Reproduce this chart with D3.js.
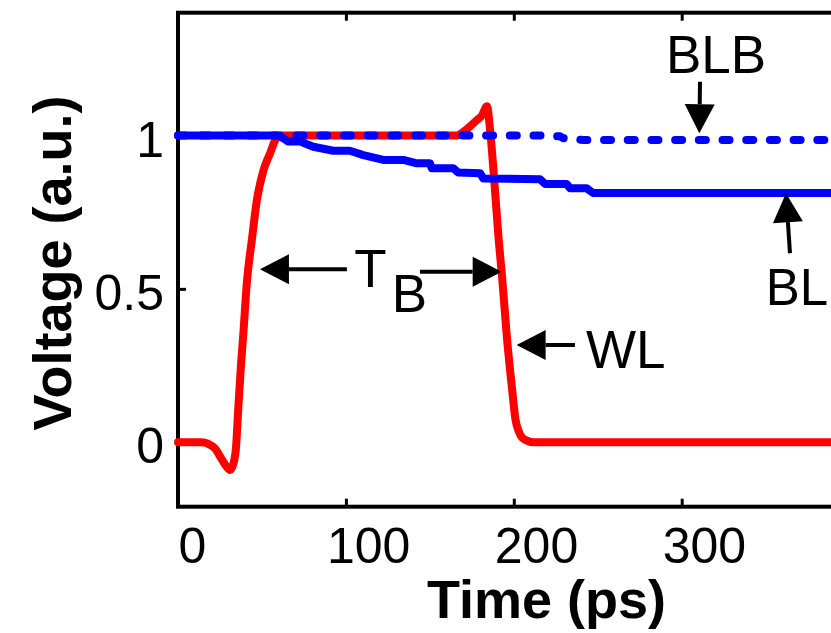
<!DOCTYPE html>
<html>
<head>
<meta charset="utf-8">
<script src="https://cdn.jsdelivr.net/npm/d3@7"></script>
<style>
  html, body { margin: 0; padding: 0; background: #fff; overflow: hidden; }
  svg { display: block; }
  text { font-family: "Liberation Sans", Arial, Helvetica, sans-serif; fill: #000; }
</style>
</head>
<body>
<svg id="chart" width="831" height="633"></svg>
<script>
// Word-line (WL) pulse, time in ps and voltage in a.u.
const wlTime = [0, 8, 14, 18, 22, 26, 29, 31, 33, 34.5, 36, 37.5, 39, 41, 44, 47, 51, 55, 58, 61,
                100, 140, 166, 170, 174, 178, 181, 184, 186, 188, 191, 193, 196, 199, 201, 203,
                205, 208, 212, 250, 300, 400];
const wlVolt = [0, 0, 0, -0.005, -0.02, -0.055, -0.08, -0.09, -0.07, -0.02, 0.12, 0.25, 0.36, 0.52,
                0.66, 0.79, 0.888, 0.944, 0.986, 1.0,
                1.0, 1.0, 1.0, 1.012, 1.03, 1.05, 1.065, 1.095, 1.01, 0.88, 0.66, 0.54, 0.335,
                0.172, 0.074, 0.035, 0.015, 0.005, 0, 0, 0, 0];

// Bit line (BL), discharging in small steps
const blTime = [0, 58.8, 62.7, 65.7, 72.7, 80.6, 92.5, 102.4, 110.4, 122.3, 134.2, 142.2, 150.1,
                151.1, 164.0, 166.9, 179.9, 181.8, 215.6, 218.6, 231.5, 233.5, 243.4, 247.3, 400];
const blVolt = [1.0, 1.0, 0.991, 0.980, 0.980, 0.963, 0.950, 0.950, 0.936, 0.920, 0.920, 0.909,
                0.909, 0.893, 0.893, 0.879, 0.877, 0.860, 0.857, 0.842, 0.842, 0.828, 0.828,
                0.812, 0.812];

// Complementary bit line (BLB)
const blbTime = [0, 215.6, 227.5, 229.5, 241.4, 400];
const blbVolt = [1.0, 1.0, 0.997, 0.991, 0.985, 0.985];

// Axis ticks
const xTicks = [0, 100, 200, 300, 400];
const xTickLabels = ["0", "100", "200", "300", ""];
const yTicks = [0, 0.5, 1];
const yTickLabels = ["0", "0.5", "1"];

const svg = d3.select("#chart");
svg.append("rect").attr("width", 831).attr("height", 633).attr("fill", "#fff");

const x = d3.scaleLinear().domain([0, 400]).range([178, 849.6]);
const y = d3.scaleLinear().domain([-0.21, 1.4]).range([506.7, 12.7]);

const tickFont = 50;
const lineW = 8;

// Frame of the axes
svg.append("rect")
  .attr("x", x(0)).attr("y", y(1.4))
  .attr("width", x(400) - x(0)).attr("height", y(-0.21) - y(1.4))
  .attr("fill", "none").attr("stroke", "#000").attr("stroke-width", 4);

// Bottom axis with inward ticks
const gx = svg.append("g").attr("transform", `translate(0,${y(-0.21)})`)
  .call(d3.axisBottom(x).tickValues(xTicks).tickFormat((d, i) => xTickLabels[i])
        .tickSizeInner(-8).tickSizeOuter(0));
gx.select(".domain").remove();
gx.selectAll(".tick line").attr("stroke", "#000").attr("stroke-width", 3);
gx.selectAll(".tick text")
  .attr("font-size", tickFont)
  .attr("text-anchor", "start")
  .attr("dy", null)
  .attr("y", 56.3)
  .attr("x", d => d === 0 ? 0 : -19.5);

// Top axis: ticks only
const gt = svg.append("g").attr("transform", `translate(0,${y(1.4)})`)
  .call(d3.axisTop(x).tickValues(xTicks).tickFormat("").tickSizeInner(-8).tickSizeOuter(0));
gt.select(".domain").remove();
gt.selectAll(".tick line").attr("stroke", "#000").attr("stroke-width", 3);

// Left axis with inward ticks
const gy = svg.append("g").attr("transform", `translate(${x(0)},0)`)
  .call(d3.axisLeft(y).tickValues(yTicks).tickFormat((d, i) => yTickLabels[i])
        .tickSizeInner(-8).tickSizeOuter(0));
gy.select(".domain").remove();
gy.selectAll(".tick line").attr("stroke", "#000").attr("stroke-width", 3);
gy.selectAll(".tick text")
  .attr("font-size", tickFont)
  .attr("text-anchor", "end")
  .attr("dy", null)
  .attr("y", 20.7)
  .attr("x", -14);

// Axis titles
svg.append("text")
  .attr("x", 546.5).attr("y", 618)
  .attr("text-anchor", "middle")
  .attr("font-size", 54).attr("font-weight", "bold")
  .text("Time (ps)");

svg.append("text")
  .attr("transform", "translate(71,263) rotate(-90)")
  .attr("text-anchor", "middle")
  .attr("font-size", 54).attr("font-weight", "bold")
  .text("Voltage (a.u.)");

// Waveforms
const line = d3.line().x(d => x(d[0])).y(d => y(d[1]));
const smooth = d3.line().x(d => x(d[0])).y(d => y(d[1])).curve(d3.curveMonotoneX);

svg.append("path")
  .datum(d3.zip(wlTime, wlVolt))
  .attr("d", smooth)
  .attr("fill", "none").attr("stroke", "#ff0000").attr("stroke-width", lineW)
  .attr("stroke-linecap", "round").attr("stroke-linejoin", "round");

svg.append("path")
  .datum(d3.zip(blbTime, blbVolt))
  .attr("d", line)
  .attr("fill", "none").attr("stroke", "#0000ff").attr("stroke-width", lineW)
  .attr("stroke-dasharray", "7,16.7")
  .attr("stroke-linecap", "round").attr("stroke-linejoin", "round");

svg.append("path")
  .datum(d3.zip(blTime, blVolt))
  .attr("d", line)
  .attr("fill", "none").attr("stroke", "#0000ff").attr("stroke-width", lineW)
  .attr("stroke-linecap", "round").attr("stroke-linejoin", "round");

// Annotation arrows, given in data units: tail -> tip
function arrow(t0, v0, t1, v1) {
  const x0 = x(t0), y0 = y(v0), x1 = x(t1), y1 = y(v1);
  const dx = x1 - x0, dy = y1 - y0, len = Math.hypot(dx, dy);
  const ux = dx / len, uy = dy / len;
  const headLen = 29, headHalf = 15;
  const bx = x1 - ux * headLen, by = y1 - uy * headLen;
  svg.append("line")
    .attr("x1", x0).attr("y1", y0).attr("x2", bx).attr("y2", by)
    .attr("stroke", "#000").attr("stroke-width", 4);
  svg.append("path")
    .attr("d", `M${x1},${y1}L${bx - uy * headHalf},${by + ux * headHalf}L${bx + uy * headHalf},${by - ux * headHalf}Z`)
    .attr("fill", "#000");
}

function label(t, v, str, size) {
  return svg.append("text").attr("x", x(t)).attr("y", y(v))
    .attr("font-size", size || 53).text(str);
}

// T_B: pulse width markers
arrow(100.6, 0.564, 48.8, 0.564);
arrow(144.1, 0.556, 192.8, 0.556);
const tb = label(105.0, 0.506, "T");
tb.append("tspan").attr("dx", 5).attr("dy", 25).text("B");

// WL
arrow(236.4, 0.317, 201.7, 0.317);
label(243.0, 0.2415, "WL");

// BLB
arrow(310.9, 1.175, 310.5, 1.007);
label(290.6, 1.2025, "BLB");

// BL
arrow(364.5, 0.616, 362.1, 0.8116);
label(350.0, 0.4475, "BL", 51);
</script>
</body>
</html>
